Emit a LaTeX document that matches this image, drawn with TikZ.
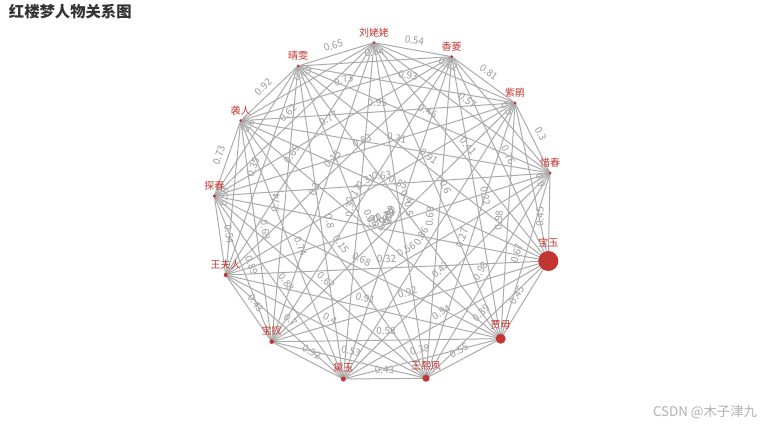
\documentclass[tikz,border=0pt]{standalone}
\usepackage{fontspec}
\setmainfont{Noto Sans CJK SC}
\usetikzlibrary{backgrounds}
\definecolor{hlred}{HTML}{C23531}
\definecolor{linkgray}{HTML}{AAAAAA}
\definecolor{weightgray}{HTML}{999999}
\definecolor{titlegray}{HTML}{333333}

\begin{document}
\begin{tikzpicture}[x=0.025cm, y=-0.025cm, label distance=1.5pt,
    namelabel/.style={text=hlred, inner sep=1pt, font=\fontsize{7.1}{8}\selectfont},
    link/.style={draw=linkgray, line width=0.7pt},
    weight/.style={sloped, above=2.5pt, inner sep=1pt, text=weightgray, font=\fontsize{7.1}{8}\selectfont}]
    \useasboundingbox (0,0) rectangle (769,427);

    % Title
    \node[anchor=west, text=titlegray, font=\fontsize{10.9}{12}\selectfont\bfseries] (title) at (4,12) {红楼梦人物关系图};
    \node[anchor=east, text=black!30, font=\fontsize{9.5}{11}\selectfont] (mark) at (762,412) {CSDN @木子津九};

    % Draw nodes
    \node[circle, fill=hlred, inner sep=0pt, minimum size=0.5cm, label={[namelabel]above:宝玉}] (baoyu) at (548.3,261) {};
    \node[circle, fill=hlred, inner sep=0pt, minimum size=0.075cm, label={[namelabel]above:惜春}] (xichun) at (550,173) {};
    \node[circle, fill=hlred, inner sep=0pt, minimum size=0.075cm, label={[namelabel]above:紫鹃}] (zijuan) at (515,103) {};
    \node[circle, fill=hlred, inner sep=0pt, minimum size=0.075cm, label={[namelabel]above:香菱}] (xiangling) at (451.7,56.7) {};
    \node[circle, fill=hlred, inner sep=0pt, minimum size=0.075cm, label={[namelabel]above:刘姥姥}] (liulaolao) at (374,42.7) {};
    \node[circle, fill=hlred, inner sep=0pt, minimum size=0.075cm, label={[namelabel]above:晴雯}] (qingwen) at (298,66) {};
    \node[circle, fill=hlred, inner sep=0pt, minimum size=0.075cm, label={[namelabel]above:袭人}] (xiren) at (240.7,120.7) {};
    \node[circle, fill=hlred, inner sep=0pt, minimum size=0.0875cm, label={[namelabel]above:探春}] (tanchun) at (214.3,196) {};
    \node[circle, fill=hlred, inner sep=0pt, minimum size=0.1cm, label={[namelabel]above:王夫人}] (wangfuren) at (225.7,275) {};
    \node[circle, fill=hlred, inner sep=0pt, minimum size=0.1125cm, label={[namelabel]above:宝钗}] (baochai) at (271.7,341.7) {};
    \node[circle, fill=hlred, inner sep=0pt, minimum size=0.125cm, label={[namelabel]above:黛玉}] (daiyu) at (343.3,379) {};
    \node[circle, fill=hlred, inner sep=0pt, minimum size=0.175cm, label={[namelabel]above:王熙凤}] (wangxifeng) at (426,378.3) {};
    \node[circle, fill=hlred, inner sep=0pt, minimum size=0.25cm, label={[namelabel]above:贾母}] (jiamu) at (500.7,338.7) {};

    % Draw connections
    \begin{scope}[on background layer]
    \fill[white] (0,0) rectangle (769,427);
    \draw[link] (baoyu.center) -- (xichun.center) node[midway, weight] {0.45};
    \draw[link] (xichun.center) -- (zijuan.center) node[midway, weight] {0.3};
    \draw[link] (zijuan.center) -- (xiangling.center) node[midway, weight] {0.81};
    \draw[link] (xiangling.center) -- (liulaolao.center) node[midway, weight] {0.54};
    \draw[link] (liulaolao.center) -- (qingwen.center) node[midway, weight] {0.65};
    \draw[link] (qingwen.center) -- (xiren.center) node[midway, weight] {0.92};
    \draw[link] (xiren.center) -- (tanchun.center) node[midway, weight] {0.73};
    \draw[link] (tanchun.center) -- (wangfuren.center) node[midway, weight] {0.54};
    \draw[link] (wangfuren.center) -- (baochai.center) node[midway, weight] {0.43};
    \draw[link] (baochai.center) -- (daiyu.center) node[midway, weight] {0.92};
    \draw[link] (daiyu.center) -- (wangxifeng.center) node[midway, weight] {0.43};
    \draw[link] (wangxifeng.center) -- (jiamu.center) node[midway, weight] {0.55};
    \draw[link] (jiamu.center) -- (baoyu.center) node[midway, weight] {0.45};

    \draw[link] (baoyu.center) -- (zijuan.center) node[midway, weight] {0.9};
    \draw[link] (xichun.center) -- (xiangling.center) node[midway, weight] {0.5};
    \draw[link] (zijuan.center) -- (liulaolao.center) node[midway, weight] {0.62};
    \draw[link] (xiangling.center) -- (qingwen.center) node[midway, weight] {0.84};
    \draw[link] (liulaolao.center) -- (xiren.center) node[midway, weight] {0.69};
    \draw[link] (qingwen.center) -- (tanchun.center) node[midway, weight] {0.6};
    \draw[link] (xiren.center) -- (wangfuren.center) node[midway, weight] {0.59};
    \draw[link] (tanchun.center) -- (baochai.center) node[midway, weight] {0.89};
    \draw[link] (wangfuren.center) -- (daiyu.center) node[midway, weight] {0.7};
    \draw[link] (baochai.center) -- (wangxifeng.center) node[midway, weight] {0.53};
    \draw[link] (daiyu.center) -- (jiamu.center) node[midway, weight] {0.38};
    \draw[link] (wangxifeng.center) -- (baoyu.center) node[midway, weight] {0.39};
    \draw[link] (jiamu.center) -- (xichun.center) node[midway, weight] {0.67};

    \draw[link] (baoyu.center) -- (xiangling.center) node[midway, weight] {0.76};
    \draw[link] (xichun.center) -- (liulaolao.center) node[midway, weight] {0.57};
    \draw[link] (zijuan.center) -- (qingwen.center) node[midway, weight] {0.93};
    \draw[link] (xiangling.center) -- (xiren.center) node[midway, weight] {0.73};
    \draw[link] (liulaolao.center) -- (tanchun.center) node[midway, weight] {0.62};
    \draw[link] (qingwen.center) -- (wangfuren.center) node[midway, weight] {0.35};
    \draw[link] (xiren.center) -- (baochai.center) node[midway, weight] {0.69};
    \draw[link] (tanchun.center) -- (daiyu.center) node[midway, weight] {0.88};
    \draw[link] (wangfuren.center) -- (wangxifeng.center) node[midway, weight] {0.4};
    \draw[link] (baochai.center) -- (jiamu.center) node[midway, weight] {0.58};
    \draw[link] (daiyu.center) -- (baoyu.center) node[midway, weight] {0.94};
    \draw[link] (wangxifeng.center) -- (xichun.center) node[midway, weight] {0.98};
    \draw[link] (jiamu.center) -- (zijuan.center) node[midway, weight] {0.98};

    \draw[link] (baoyu.center) -- (liulaolao.center) node[midway, weight] {0.41};
    \draw[link] (xichun.center) -- (qingwen.center) node[midway, weight] {0.46};
    \draw[link] (zijuan.center) -- (xiren.center) node[midway, weight] {0.95};
    \draw[link] (xiangling.center) -- (tanchun.center) node[midway, weight] {0.77};
    \draw[link] (liulaolao.center) -- (wangfuren.center) node[midway, weight] {0.69};
    \draw[link] (qingwen.center) -- (baochai.center) node[midway, weight] {0.74};
    \draw[link] (xiren.center) -- (daiyu.center) node[midway, weight] {0.74};
    \draw[link] (tanchun.center) -- (wangxifeng.center) node[midway, weight] {0.62};
    \draw[link] (wangfuren.center) -- (jiamu.center) node[midway, weight] {0.91};
    \draw[link] (baochai.center) -- (baoyu.center) node[midway, weight] {0.92};
    \draw[link] (daiyu.center) -- (xichun.center) node[midway, weight] {0.42};
    \draw[link] (wangxifeng.center) -- (zijuan.center) node[midway, weight] {0.27};
    \draw[link] (jiamu.center) -- (xiangling.center) node[midway, weight] {0.22};

    \draw[link] (baoyu.center) -- (qingwen.center) node[midway, weight] {0.91};
    \draw[link] (xichun.center) -- (xiren.center) node[midway, weight] {0.31};
    \draw[link] (zijuan.center) -- (tanchun.center) node[midway, weight] {0.83};
    \draw[link] (xiangling.center) -- (wangfuren.center) node[midway, weight] {0.15};
    \draw[link] (liulaolao.center) -- (baochai.center) node[midway, weight] {0.3};
    \draw[link] (qingwen.center) -- (daiyu.center) node[midway, weight] {0.8};
    \draw[link] (xiren.center) -- (wangxifeng.center) node[midway, weight] {0.15};
    \draw[link] (tanchun.center) -- (jiamu.center) node[midway, weight] {0.68};
    \draw[link] (wangfuren.center) -- (baoyu.center) node[midway, weight] {0.32};
    \draw[link] (baochai.center) -- (xichun.center) node[midway, weight] {0.56};
    \draw[link] (daiyu.center) -- (zijuan.center) node[midway, weight] {0.86};
    \draw[link] (wangxifeng.center) -- (xiangling.center) node[midway, weight] {0.68};
    \draw[link] (jiamu.center) -- (liulaolao.center) node[midway, weight] {0.6};

    \draw[link] (baoyu.center) -- (xiren.center) node[midway, weight] {0.85};
    \draw[link] (xichun.center) -- (tanchun.center) node[midway, weight] {0.63};
    \draw[link] (zijuan.center) -- (wangfuren.center) node[midway, weight] {0.31};
    \draw[link] (xiangling.center) -- (baochai.center) node[midway, weight] {0.17};
    \draw[link] (liulaolao.center) -- (daiyu.center) node[midway, weight] {0.3};
    \draw[link] (qingwen.center) -- (wangxifeng.center) node[midway, weight] {0.89};
    \draw[link] (xiren.center) -- (jiamu.center) node[midway, weight] {0.58};
    \draw[link] (tanchun.center) -- (baoyu.center) node[midway, weight] {0.96};
    \draw[link] (wangfuren.center) -- (xichun.center) node[midway, weight] {0.29};
    \draw[link] (baochai.center) -- (zijuan.center) node[midway, weight] {0.82};
    \draw[link] (daiyu.center) -- (xiangling.center) node[midway, weight] {0.99};
    \draw[link] (wangxifeng.center) -- (liulaolao.center) node[midway, weight] {0.5};
    \draw[link] (jiamu.center) -- (qingwen.center) node[midway, weight] {0.4};
    \end{scope}
\end{tikzpicture}
\end{document}
